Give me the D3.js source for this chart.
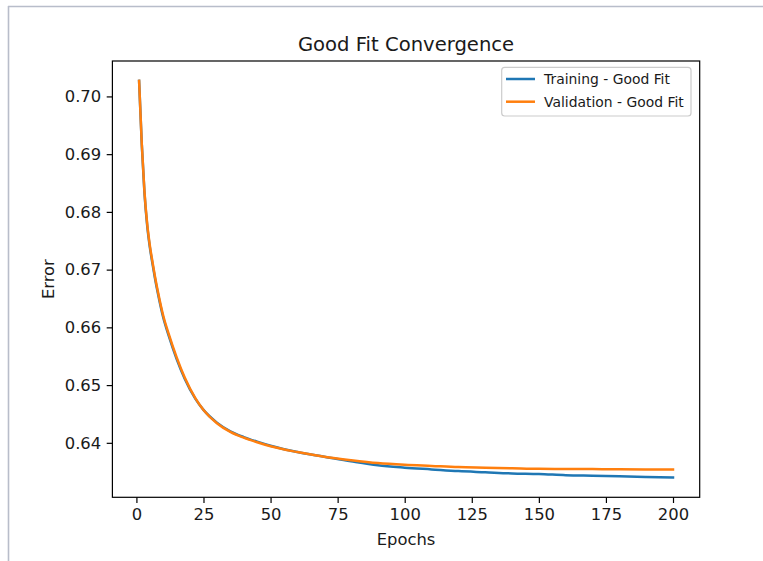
<!DOCTYPE html>
<html>
<head>
<meta charset="utf-8">
<title>Good Fit Convergence</title>
<script src="https://d3js.org/d3.v7.min.js"></script>
<style>
  body { margin: 0; background: #fff; }
  text { font-family: "DejaVu Sans", sans-serif; fill: #1a1a1a; }
</style>
</head>
<body>
<div id="chart"></div>
<script>
// values (epoch, error)
var epochs = [1, 2, 3, 4, 5, 6, 7, 8, 10, 12, 15, 18, 22, 25, 30, 35, 40, 45, 50, 60, 70, 80,
              90, 100, 110, 120, 130, 140, 150, 160, 170, 180, 190, 200];
var trainErr = [0.7027, 0.6917, 0.6833, 0.6777, 0.6739, 0.6710, 0.6683, 0.6659, 0.6617, 0.6586,
                0.6545, 0.6511, 0.6476, 0.6457, 0.6435, 0.6420, 0.6410, 0.6402, 0.6395, 0.6384,
                0.6376, 0.6368, 0.6361, 0.6357, 0.6354, 0.6351, 0.6349, 0.6347, 0.6346, 0.6344,
                0.6343, 0.6342, 0.6341, 0.6340];
var validErr = [0.7027, 0.6918, 0.6835, 0.6780, 0.6742, 0.6713, 0.6686, 0.6662, 0.6620, 0.6589,
                0.6548, 0.6513, 0.6477, 0.6457, 0.6434, 0.6419, 0.6409, 0.6401, 0.6394, 0.6384,
                0.6376, 0.6370, 0.6365, 0.6362, 0.6360, 0.6358, 0.6357, 0.6356, 0.6355, 0.63548,
                0.63545, 0.63542, 0.6354, 0.63538];
var xTicks = [0, 25, 50, 75, 100, 125, 150, 175, 200];
var yTicks = [0.64, 0.65, 0.66, 0.67, 0.68, 0.69, 0.70];
var seriesNames = ["Training - Good Fit", "Validation - Good Fit"];
var seriesColors = ["#1f77b4", "#ff7f0e"];

var W = 763, H = 561;
var pLeft = 112.4, pRight = 699.7, pTop = 61, pBottom = 497.3;

var svg = d3.select("#chart").append("svg")
  .attr("width", W).attr("height", H);

// screenshot frame
svg.append("line").attr("x1", 8).attr("x2", W).attr("y1", 6.5).attr("y2", 6.5)
  .attr("stroke", "#b8bdca").attr("stroke-width", 1.6);
svg.append("line").attr("x1", 8.5).attr("x2", 8.5).attr("y1", 6).attr("y2", H)
  .attr("stroke", "#b8bdca").attr("stroke-width", 1.6);

// 5% margins like matplotlib
var xr = d3.extent(epochs), xm = (xr[1] - xr[0]) * 0.05;
var allY = trainErr.concat(validErr);
var yr = d3.extent(allY), ym = (yr[1] - yr[0]) * 0.05;

var x = d3.scaleLinear().domain([xr[0] - xm, xr[1] + xm]).range([pLeft, pRight]);
var y = d3.scaleLinear().domain([yr[0] - ym, yr[1] + ym]).range([pBottom, pTop]);

var xAxis = d3.axisBottom(x).tickValues(xTicks).tickSize(5.7).tickPadding(5.5).tickFormat(d3.format("d"));
var yAxis = d3.axisLeft(y).tickValues(yTicks).tickSize(5.7).tickPadding(5.5).tickFormat(d3.format(".2f"));

var gx = svg.append("g").attr("transform", "translate(0," + pBottom + ")").call(xAxis);
var gy = svg.append("g").attr("transform", "translate(" + pLeft + ",0)").call(yAxis);
[gx, gy].forEach(function (g) {
  g.select(".domain").remove();
  g.selectAll(".tick line").attr("stroke", "#000").attr("stroke-width", 1.2);
  g.selectAll(".tick text").style("font-size", "16.4px").attr("fill", "#1a1a1a")
    .style("font-family", "DejaVu Sans, sans-serif");
});

// lines
var line = d3.line().curve(d3.curveMonotoneX);
var series = [trainErr, validErr];
series.forEach(function (vals, i) {
  svg.append("path")
    .datum(epochs.map(function (e, j) { return [x(e), y(vals[j])]; }))
    .attr("d", line)
    .attr("fill", "none")
    .attr("stroke", seriesColors[i])
    .attr("stroke-width", 2.5)
    .attr("stroke-linejoin", "round")
    .attr("stroke-linecap", "square");
});

// spines
svg.append("rect").attr("x", pLeft).attr("y", pTop)
  .attr("width", pRight - pLeft).attr("height", pBottom - pTop)
  .attr("fill", "none").attr("stroke", "#000").attr("stroke-width", 1.2);

// title and labels
svg.append("text").attr("x", (pLeft + pRight) / 2).attr("y", 51)
  .attr("text-anchor", "middle").style("font-size", "19.6px")
  .text("Good Fit Convergence");
svg.append("text").attr("x", (pLeft + pRight) / 2).attr("y", 545)
  .attr("text-anchor", "middle").style("font-size", "16.4px")
  .text("Epochs");
svg.append("text")
  .attr("transform", "translate(54," + (pTop + pBottom) / 2 + ") rotate(-90)")
  .attr("text-anchor", "middle").style("font-size", "16.4px")
  .text("Error");

// legend
var lg = svg.append("g");
lg.append("rect").attr("x", 501.7).attr("y", 67.3).attr("width", 189.3).attr("height", 48.7)
  .attr("rx", 3).attr("fill", "#fff").attr("fill-opacity", 0.8)
  .attr("stroke", "#cccccc").attr("stroke-width", 1.2);
seriesNames.forEach(function (name, i) {
  var ly = 79 + i * 22.7;
  lg.append("line").attr("x1", 506).attr("x2", 535).attr("y1", ly).attr("y2", ly)
    .attr("stroke", seriesColors[i]).attr("stroke-width", 2.5);
  lg.append("text").attr("x", 544).attr("y", ly + 5)
    .style("font-size", "13.9px").text(name);
});
</script>
</body>
</html>
